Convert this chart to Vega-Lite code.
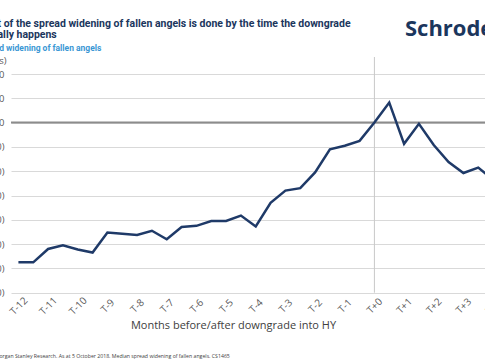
{
  "$schema": "https://vega.github.io/schema/vega-lite/v6.json",
  "autosize": {"type": "none"},
  "padding": {"left": 11, "top": 57, "right": 0, "bottom": 68},
  "width": 489.5,
  "height": 235.7,
  "background": "white",
  "config": {"view": {"stroke": null}, "font": "Open Sans"},
  "title": {
    "text": ["Most of the spread widening of fallen angels is done by the time the downgrade", "actually happens"],
    "subtitle": "Spread widening of fallen angels",
    "anchor": "start",
    "frame": "group",
    "dx": -34,
    "dy": 40,
    "offset": 6,
    "font": "Roboto",
    "fontSize": 10.5,
    "fontWeight": "bold",
    "color": "#1b365d",
    "lineHeight": 11,
    "subtitleFont": "Roboto",
    "subtitleFontSize": 8.5,
    "subtitleFontWeight": "bold",
    "subtitleColor": "#3a97d4",
    "subtitlePadding": 3
  },
  "data": {"values": [
    {"m": -12, "bps": -115}, {"m": -11.5, "bps": -115}, {"m": -11, "bps": -104}, {"m": -10.5, "bps": -101},
    {"m": -10, "bps": -104.5}, {"m": -9.5, "bps": -107}, {"m": -9, "bps": -90.5}, {"m": -8.5, "bps": -91.5},
    {"m": -8, "bps": -92.5}, {"m": -7.5, "bps": -89}, {"m": -7, "bps": -96}, {"m": -6.5, "bps": -86},
    {"m": -6, "bps": -85}, {"m": -5.5, "bps": -81}, {"m": -5, "bps": -81}, {"m": -4.5, "bps": -76.5},
    {"m": -4, "bps": -85.5}, {"m": -3.5, "bps": -66}, {"m": -3, "bps": -56}, {"m": -2.5, "bps": -54},
    {"m": -2, "bps": -41}, {"m": -1.5, "bps": -22}, {"m": -1, "bps": -19}, {"m": -0.5, "bps": -15},
    {"m": 0, "bps": 0}, {"m": 0.5, "bps": 16.5}, {"m": 1, "bps": -17.5}, {"m": 1.5, "bps": -1},
    {"m": 2, "bps": -18.5}, {"m": 2.5, "bps": -32.5}, {"m": 3, "bps": -41.5}, {"m": 3.5, "bps": -37},
    {"m": 4, "bps": -47}
  ]},
  "resolve": {"axis": {"x": "independent", "y": "independent"}},
  "layer": [
    {
      "mark": {"type": "line", "opacity": 0},
      "encoding": {
        "x": {
          "field": "m", "type": "quantitative",
          "scale": {"domain": [-12.25, 4.25], "nice": false, "zero": false},
          "axis": {
            "values": [-12, -11, -10, -9, -8, -7, -6, -5, -4, -3, -2, -1, 0, 1, 2, 3, 4],
            "labelExpr": "datum.value >= 0 ? 'T+' + datum.value : 'T' + datum.value",
            "labelAngle": -45,
            "labelAlign": "center",
            "labelBaseline": "middle",
            "labelPadding": 13,
            "labelFontSize": 10,
            "labelColor": "#595959",
            "labelFont": "Open Sans",
            "labelOverlap": false,
            "labelBound": false,
            "labelFlush": false,
            "ticks": false,
            "domain": false,
            "grid": false,
            "title": "Months before/after downgrade into HY",
            "titleFont": "Open Sans",
            "titleFontSize": 11,
            "titleFontWeight": "normal",
            "titleColor": "#404040",
            "titleX": 222,
            "titleY": 33,
            "titleBaseline": "middle",
            "titleAnchor": "middle"
          }
        },
        "y": {
          "field": "bps", "type": "quantitative",
          "scale": {"domain": [-140, 54], "nice": false, "zero": false},
          "axis": {
            "values": [-140, -120, -100, -80, -60, -40, -20, 0, 20, 40],
            "labelExpr": "datum.value < 0 ? '(' + (-datum.value) + ')' : '' + datum.value",
            "labelOverlap": false,
            "labelFontSize": 9.5,
            "labelColor": "#595959",
            "labelFont": "Open Sans",
            "labelPadding": 7,
            "ticks": false,
            "domain": false,
            "grid": true,
            "gridColor": "#d9d9d9",
            "gridWidth": 1,
            "title": "(bps)",
            "titleAngle": 0,
            "titleAlign": "right",
            "titleBaseline": "middle",
            "titleX": -5,
            "titleY": 4,
            "titleFont": "Open Sans",
            "titleFontSize": 9.5,
            "titleFontWeight": "normal",
            "titleColor": "#595959"
          }
        }
      }
    },
    {
      "data": {"values": [{"zero": 0}]},
      "mark": {"type": "rule", "color": "#8c8c8c", "strokeWidth": 2},
      "encoding": {"y": {"field": "zero", "type": "quantitative", "axis": null}}
    },
    {
      "data": {"values": [{"t": 0}]},
      "mark": {"type": "rule", "color": "#c8c8c8", "strokeWidth": 1},
      "encoding": {"x": {"field": "t", "type": "quantitative", "axis": null}}
    },
    {
      "mark": {"type": "line", "color": "#1f3a68", "strokeWidth": 2.5, "strokeJoin": "miter"},
      "encoding": {
        "x": {"field": "m", "type": "quantitative", "axis": null},
        "y": {"field": "bps", "type": "quantitative", "axis": null}
      }
    },
    {
      "data": {"values": [{"label": "Schroders", "m": 1.03, "v": 77}]},
      "mark": {"type": "text", "align": "left", "baseline": "middle", "font": "Open Sans", "fontSize": 22, "fontWeight": "bold", "color": "#1b365d"},
      "encoding": {
        "x": {"field": "m", "type": "quantitative", "axis": null},
        "y": {"field": "v", "type": "quantitative", "axis": null},
        "text": {"field": "label"}
      }
    },
    {
      "data": {"values": [{"label": "Source: Morgan Stanley Research. As at 5 October 2018. Median spread widening of fallen angels. CS1465", "m": -13.45, "v": -192}]},
      "mark": {"type": "text", "align": "left", "baseline": "middle", "font": "Open Sans", "fontSize": 5.2, "color": "#404040"},
      "encoding": {
        "x": {"field": "m", "type": "quantitative", "axis": null},
        "y": {"field": "v", "type": "quantitative", "axis": null},
        "text": {"field": "label"}
      }
    }
  ]
}
